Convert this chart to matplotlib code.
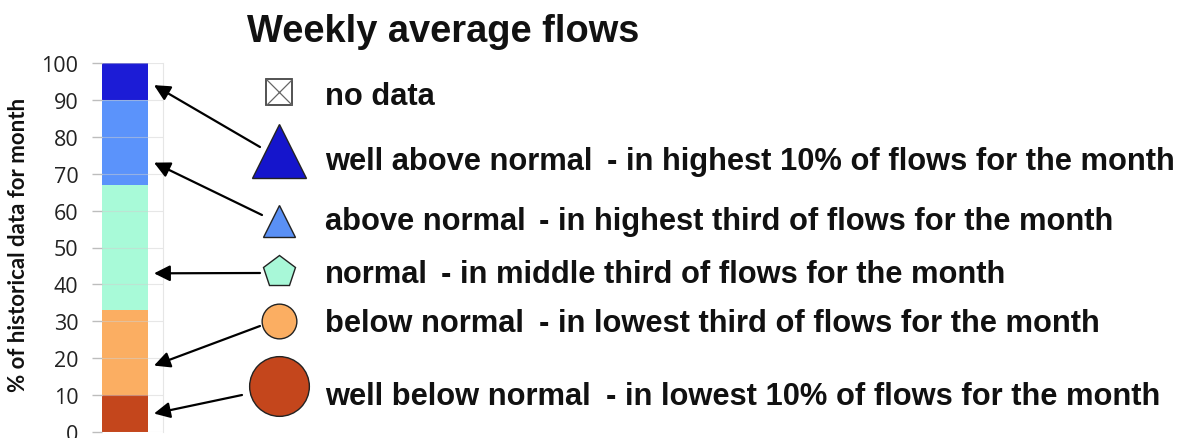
import matplotlib
matplotlib.use("Agg")
import matplotlib.pyplot as plt

# ---------------- data ----------------
categories = ["well below normal", "below normal", "normal", "above normal", "well above normal"]
seg_bottom = [0, 10, 33, 67, 90]
seg_height = [10, 23, 34, 23, 10]
bar_colors = ["#C4461C", "#FBAE62", "#A8FAD8", "#5B93FB", "#1C1CD6"]
yticks = [0, 10, 20, 30, 40, 50, 60, 70, 80, 90, 100]
ylabel = "% of historical data for month"
title = "Weekly average flows"

legend_labels = ["no data", "well above normal", "above normal", "normal",
                 "below normal", "well below normal"]
legend_desc = ["", "- in highest 10% of flows for the month",
               "- in highest third of flows for the month",
               "- in middle third of flows for the month",
               "- in lowest third of flows for the month",
               "- in lowest 10% of flows for the month"]
legend_markers = ["s", "^", "^", "p", "o", "o"]
legend_msize = [19, 39, 23, 24, 25, 43]
legend_colors = ["white", "#1515CC", "#5A90F5", "#A8F8D8", "#FBAE62", "#C4461C"]
arrow_targets = [None, 94, 73, 43, 18, 5]   # % value on the bar each arrow points to

# ---------------- layout (pixels) ----------------
W, H = 1184, 439
fig = plt.figure(figsize=(W / 100, H / 100), dpi=100)

ax_left, ax_right = 102, 163
y0_px, y100_px = 433, 64
ax = fig.add_axes([ax_left / W, (H - y0_px) / H, (ax_right - ax_left) / W, (y0_px - y100_px) / H])
ax.set_xlim(0, ax_right - ax_left)
ax.set_ylim(0, 100)
bar_w = 46
ax.bar([bar_w / 2] * len(categories), seg_height, bottom=seg_bottom, width=bar_w,
       color=bar_colors, edgecolor="none", zorder=1)
for t in yticks:
    ax.axhline(t, color="#d0d0d0", lw=0.8, alpha=0.5, zorder=2)
ax.set_yticks(yticks)
ax.set_yticklabels([str(t) for t in yticks], fontsize=15.5, family="Open Sans", color="#222222")
ax.set_xticks([])
ax.tick_params(axis="y", length=7, width=1, color="#bdbdbd", pad=10)
for s in ["top", "bottom", "left"]:
    ax.spines[s].set_visible(False)
ax.spines["right"].set_color("#e6e6e6")
ax.spines["right"].set_linewidth(0.8)

yl = fig.text(19 / W, (H - 245) / H, ylabel, rotation=90, ha="center", va="center",
              fontsize=16, family="Lato", fontweight="bold", color="#111111")

# overlay in pixel coordinates
ov = fig.add_axes([0, 0, 1, 1], zorder=5)
ov.set_xlim(0, W)
ov.set_ylim(H, 0)
ov.axis("off")
ov.patch.set_alpha(0)

ov.text(247, 42, title, fontsize=27.4, fontweight="bold", family="Liberation Sans",
        ha="left", va="baseline", color="#111111")

marker_x = 279
marker_y = [93, 152, 222, 273, 322, 387]
text_baseline = [105, 170, 230, 283, 332, 405]
desc_x = [None, 607, 539, 441, 539, 606]
arrow_tail = [None, (260, 148), (262, 216), (260, 274), (260, 327), (242, 396)]
arrow_tip_x = 52  # bar-axis x-units (a little right of the bar edge)

for i, lab in enumerate(legend_labels):
    ov.plot(marker_x, marker_y[i], marker=legend_markers[i], ms=legend_msize[i],
            mfc=legend_colors[i], mec="#222222" if i else "#444444",
            mew=1.0 if i else 1.3, ls="none", zorder=6)
    if i == 0:
        ov.plot(marker_x, marker_y[i], marker="x", ms=legend_msize[i] * 0.95,
                mec="#666666", mew=0.9, ls="none", zorder=7)
    ov.text(325, text_baseline[i], lab, fontsize=22.2, fontweight="bold",
            family="Liberation Sans", ha="left", va="baseline", color="#111111")
    if legend_desc[i]:
        ov.text(desc_x[i], text_baseline[i], legend_desc[i], fontsize=22.2, fontweight="bold",
                family="Liberation Sans", ha="left", va="baseline", color="#111111")
    if arrow_targets[i] is not None:
        ov.annotate("", xy=(arrow_tip_x, arrow_targets[i]), xycoords=ax.transData,
                    xytext=arrow_tail[i], textcoords=ov.transData,
                    arrowprops=dict(arrowstyle="-|>", color="black", lw=1.6,
                                    mutation_scale=24, shrinkA=0, shrinkB=0),
                    annotation_clip=False, zorder=4)

fig.savefig("out.png", dpi=100)
